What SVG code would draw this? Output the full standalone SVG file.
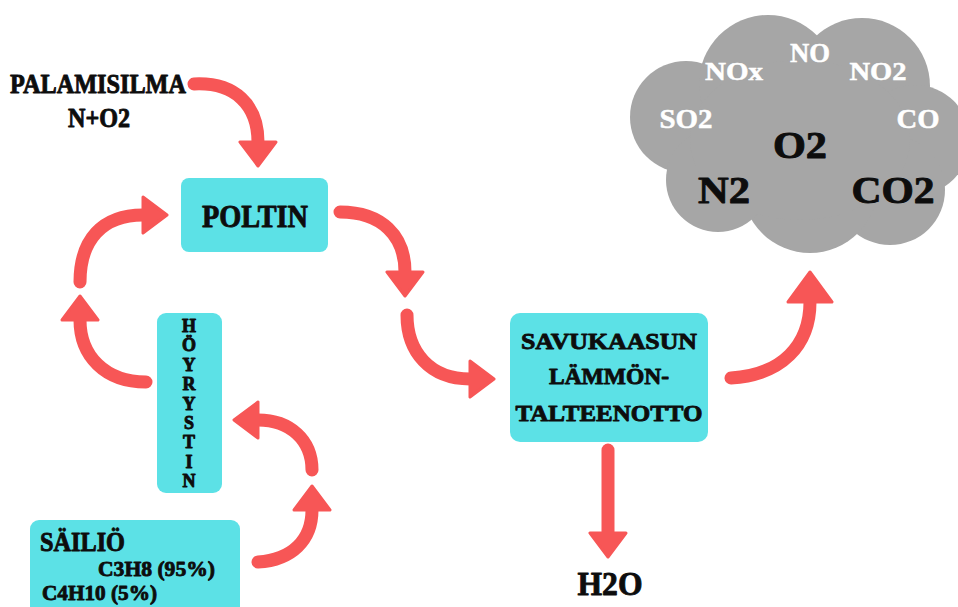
<svg xmlns="http://www.w3.org/2000/svg" width="958" height="607" viewBox="0 0 958 607">
<defs>
<style>
.box{fill:#5CE1E6}
.t{font-family:'Liberation Serif','DejaVu Serif',serif;font-weight:bold;fill:#0d0d0d;stroke:#0d0d0d;stroke-width:0.9;stroke-linejoin:round}
.w{font-family:'Liberation Serif','DejaVu Serif',serif;font-weight:bold;fill:#ffffff;stroke:#ffffff;stroke-width:0.5}
.arr{fill:none;stroke:#F75656;stroke-width:13;stroke-linecap:round}
.cloud{fill:#A6A6A6}
</style>
<marker id="ah" markerUnits="userSpaceOnUse" viewBox="0 0 28 40" refX="2" refY="20" markerWidth="28" markerHeight="40" orient="auto">
<path d="M2,2 L26,20 L2,38 Z" fill="#F75656" stroke="#F75656" stroke-width="3" stroke-linejoin="round"/>
</marker>
<marker id="ahb" markerUnits="userSpaceOnUse" viewBox="0 0 34 48" refX="2" refY="24" markerWidth="34" markerHeight="48" orient="auto">
<path d="M2,2 L32,24 L2,46 Z" fill="#F75656" stroke="#F75656" stroke-width="3" stroke-linejoin="round"/>
</marker>
</defs>
<rect width="958" height="607" fill="#ffffff"/>

<g id="cloud" class="cloud">
<circle cx="686" cy="117" r="56"/>
<circle cx="768" cy="84" r="69"/>
<circle cx="862" cy="86" r="68"/>
<circle cx="915" cy="140" r="55"/>
<circle cx="890" cy="190" r="55"/>
<circle cx="810" cy="185" r="68"/>
<circle cx="718" cy="180" r="52"/>
<ellipse cx="800" cy="140" rx="110" ry="80"/>
<text class="w" x="810" y="62" font-size="27" text-anchor="middle" textLength="40" lengthAdjust="spacingAndGlyphs">NO</text>
<text class="w" x="734" y="80" font-size="26" text-anchor="middle" textLength="58" lengthAdjust="spacingAndGlyphs">NOx</text>
<text class="w" x="878" y="80" font-size="26" text-anchor="middle" textLength="57" lengthAdjust="spacingAndGlyphs">NO2</text>
<text class="w" x="686" y="128" font-size="28" text-anchor="middle" textLength="53" lengthAdjust="spacingAndGlyphs">SO2</text>
<text class="w" x="918" y="128" font-size="28" text-anchor="middle" textLength="43" lengthAdjust="spacingAndGlyphs">CO</text>
<text class="t" x="800" y="158" font-size="38" text-anchor="middle" textLength="54" lengthAdjust="spacingAndGlyphs">O2</text>
<text class="t" x="724" y="203" font-size="38" text-anchor="middle" textLength="52" lengthAdjust="spacingAndGlyphs">N2</text>
<text class="t" x="893" y="203" font-size="38" text-anchor="middle" textLength="83" lengthAdjust="spacingAndGlyphs">CO2</text>
</g>

<g id="palamisilma">
<text class="t" x="98" y="93" font-size="27" text-anchor="middle" textLength="176" lengthAdjust="spacingAndGlyphs">PALAMISILMA</text>
<text class="t" x="99" y="127" font-size="27" text-anchor="middle" textLength="62" lengthAdjust="spacingAndGlyphs">N+O2</text>
</g>

<g id="poltin">
<rect class="box" x="181" y="178" width="147" height="74" rx="8"/>
<text class="t" x="255" y="227" font-size="32" text-anchor="middle" textLength="106" lengthAdjust="spacingAndGlyphs">POLTIN</text>
</g>

<g id="savukaasun">
<rect class="box" x="510" y="313" width="198" height="129" rx="10"/>
<text class="t" x="609" y="349" font-size="24" text-anchor="middle" textLength="176" lengthAdjust="spacingAndGlyphs">SAVUKAASUN</text>
<text class="t" x="609" y="384" font-size="24" text-anchor="middle" textLength="120" lengthAdjust="spacingAndGlyphs">LÄMMÖN-</text>
<text class="t" x="609" y="421" font-size="24" text-anchor="middle" textLength="187" lengthAdjust="spacingAndGlyphs">TALTEENOTTO</text>
</g>

<g id="h2o">
<text class="t" x="610" y="595" font-size="33" text-anchor="middle" textLength="65" lengthAdjust="spacingAndGlyphs">H2O</text>
</g>

<g id="hoyrystin">
<rect class="box" x="157" y="313" width="65" height="180" rx="9"/>
<g class="t" font-size="18" text-anchor="middle">
<text x="189" y="332">H</text>
<text x="189" y="351">Ö</text>
<text x="189" y="371">Y</text>
<text x="189" y="390">R</text>
<text x="189" y="410">Y</text>
<text x="189" y="429">S</text>
<text x="189" y="448">T</text>
<text x="189" y="468">I</text>
<text x="189" y="487">N</text>
</g>
</g>

<g id="sailio">
<rect class="box" x="30" y="520" width="210" height="100" rx="9"/>
<text class="t" x="40" y="551" font-size="27" textLength="85" lengthAdjust="spacingAndGlyphs">SÄILIÖ</text>
<text class="t" x="98" y="576" font-size="22" textLength="117" lengthAdjust="spacingAndGlyphs">C3H8 (95%)</text>
<text class="t" x="42" y="600" font-size="22" textLength="115" lengthAdjust="spacingAndGlyphs">C4H10 (5%)</text>
</g>

<g id="connectors">
<path class="arr" marker-end="url(#ah)" d="M194,84 C235,82 258,105 258,142"/>
<path class="arr" marker-end="url(#ah)" d="M340,212 C382,212 405,236 405,272"/>
<path class="arr" marker-end="url(#ah)" d="M407,315 C407,352 430,379 470,379"/>
<path class="arr" marker-end="url(#ah)" d="M608,450 L608,533"/>
<path class="arr" marker-end="url(#ahb)" d="M731,378 C782,375 810,345 810,302"/>
<path class="arr" marker-end="url(#ah)" d="M258,562 C292,560 312,540 312,510"/>
<path class="arr" marker-end="url(#ah)" d="M312,470 C312,440 290,420 258,420"/>
<path class="arr" marker-end="url(#ah)" d="M146,382 C105,382 80,356 80,320"/>
<path class="arr" marker-end="url(#ah)" d="M80,282 C80,240 102,215 143,215"/>
</g>
</svg>
